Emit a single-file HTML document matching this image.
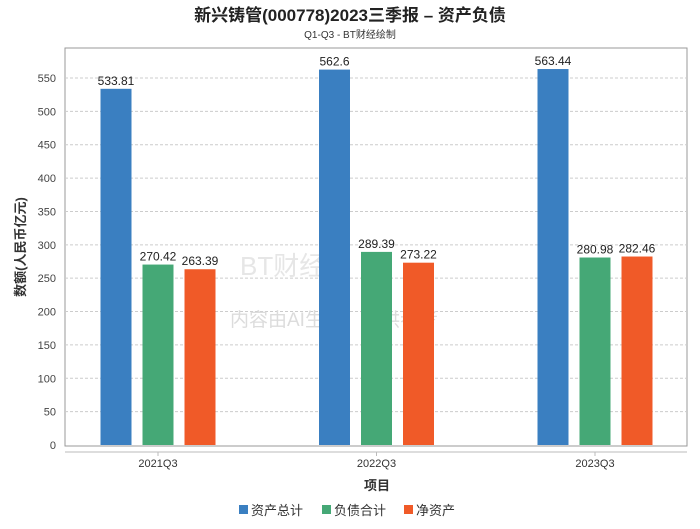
<!DOCTYPE html>
<html><head><meta charset="utf-8"><style>
body{margin:0;background:#fff;font-family:"Liberation Sans","Noto Sans CJK SC",sans-serif}
</style></head><body>
<svg width="700" height="524" xmlns="http://www.w3.org/2000/svg" style="font-family:'Liberation Sans','Noto Sans CJK SC',sans-serif">
<text x="350" y="21" text-anchor="middle" font-size="17" font-weight="bold" fill="#222">新兴铸管(000778)2023三季报 – 资产负债</text>
<text x="350" y="38" text-anchor="middle" font-size="10" fill="#333">Q1-Q3 - BT财经绘制</text>
<rect x="65" y="48" width="622" height="398" fill="none" stroke="#999"/>
<g id="grid"></g>
<text x="240" y="275" font-size="26" fill="#e6e6e6">BT财经</text>
<text x="230" y="326" font-size="19" fill="#dcdcdc">内容由AI生成，仅供参考</text>
<g id="bars"></g>
<line x1="65" y1="452" x2="687" y2="452" stroke="#bbb"/>
<text transform="translate(25,247) rotate(-90)" text-anchor="middle" font-size="13" font-weight="bold" fill="#333">数额(人民币亿元)</text>
<text x="377" y="490" text-anchor="middle" font-size="13" font-weight="bold" fill="#333">项目</text>
<g font-size="13" fill="#333">
<g><rect x="239" y="505" width="9" height="9" fill="#3a7fc1"/><text x="251" y="515">资产总计</text></g>
<g><rect x="322" y="505" width="9" height="9" fill="#45a876"/><text x="334" y="515">负债合计</text></g>
<g><rect x="404" y="505" width="9" height="9" fill="#f05a28"/><text x="416" y="515">净资产</text></g>
</g>
</svg>
<script>
const categories=["2021Q3","2022Q3","2023Q3"];
const totalAssets=[533.81,562.6,563.44];
const totalLiabilities=[270.42,289.39,280.98];
const netAssets=[263.39,273.22,282.46];
const yTicks=[0,50,100,150,200,250,300,350,400,450,500,550];
const NS="http://www.w3.org/2000/svg";
function y(v){return 445-v*(445-78)/550;}
function xc(i){return 158+218.5*i;}
const grid=document.getElementById('grid');
yTicks.forEach(t=>{
 if(t>0){const l=document.createElementNS(NS,'line');
 l.setAttribute('x1',65);l.setAttribute('x2',687);l.setAttribute('y1',y(t));l.setAttribute('y2',y(t));
 l.setAttribute('stroke','#ccc');l.setAttribute('stroke-dasharray','3,2');
 
 
 grid.appendChild(l);}
 const tx=document.createElementNS(NS,'text');
 tx.setAttribute('x',56);tx.setAttribute('y',y(t)+4);tx.setAttribute('text-anchor','end');
 tx.setAttribute('font-size','11');tx.setAttribute('fill','#444');tx.textContent=t;
 
 
 grid.appendChild(tx);
});
const series=[[totalAssets,'#3a7fc1','total-assets',-42],[totalLiabilities,'#45a876','total-liabilities',0],[netAssets,'#f05a28','net-assets',42]];
const bars=document.getElementById('bars');
categories.forEach((c,i)=>{
 series.forEach(s=>{
  const v=s[0][i],cx=xc(i)+s[3];
  const r=document.createElementNS(NS,'rect');
  r.setAttribute('x',cx-15.5);r.setAttribute('width',31);r.setAttribute('y',y(v));r.setAttribute('height',445-y(v));
  r.setAttribute('fill',s[1]);
  
  
  bars.appendChild(r);
  const t=document.createElementNS(NS,'text');
  t.setAttribute('x',cx);t.setAttribute('y',y(v)-4);t.setAttribute('text-anchor','middle');
  t.setAttribute('font-size','12');t.setAttribute('fill','#222');t.textContent=v;
  
  
  bars.appendChild(t);
 });
 const tl=document.createElementNS(NS,'line');
 tl.setAttribute('x1',xc(i));tl.setAttribute('x2',xc(i));tl.setAttribute('y1',452);tl.setAttribute('y2',456);tl.setAttribute('stroke','#bbb');
 
 
 bars.appendChild(tl);
 const lb=document.createElementNS(NS,'text');
 lb.setAttribute('x',xc(i));lb.setAttribute('y',467);lb.setAttribute('text-anchor','middle');
 lb.setAttribute('font-size','11');lb.setAttribute('fill','#333');lb.textContent=c;
 
 
 bars.appendChild(lb);
});
</script>
</body></html>
